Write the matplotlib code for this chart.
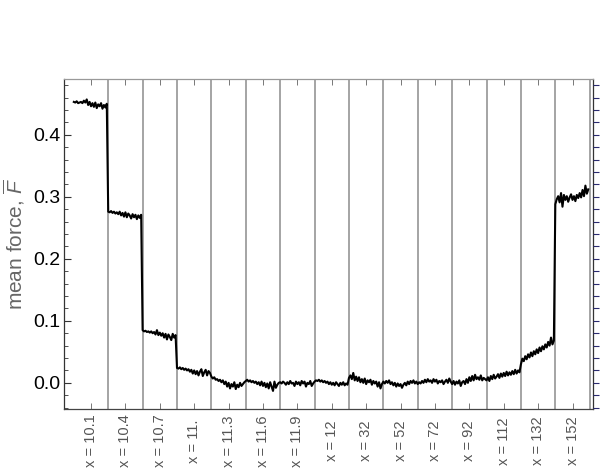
import numpy as np
import matplotlib
matplotlib.use("Agg")
import matplotlib.pyplot as plt
from matplotlib.ticker import MultipleLocator

plt.rcParams['font.family'] = ['Liberation Sans', 'DejaVu Sans']
plt.rcParams['mathtext.fontset'] = 'custom'
plt.rcParams['mathtext.rm'] = 'Liberation Sans'
plt.rcParams['mathtext.it'] = 'Liberation Sans:italic'

# segment labels (one per run)
x_labels = ["10.1", "10.4", "10.7", "11.", "11.3", "11.6", "11.9",
            "12", "32", "52", "72", "92", "112", "132", "152"]

# mean force, one list per segment
seg_10_1 = [0.453, 0.452, 0.454, 0.451, 0.452, 0.453, 0.451, 0.455, 0.452, 0.457, 0.448, 0.453,
            0.446, 0.451, 0.445, 0.452, 0.443, 0.449, 0.446, 0.451, 0.442, 0.448, 0.444, 0.450]
seg_10_4 = [0.276, 0.275, 0.277, 0.274, 0.276, 0.273, 0.275, 0.272, 0.276, 0.270, 0.274, 0.268,
            0.275, 0.267, 0.273, 0.270, 0.265, 0.272, 0.267, 0.271, 0.264, 0.270, 0.266, 0.271]
seg_10_7 = [0.085, 0.083, 0.084, 0.082, 0.083, 0.081, 0.083, 0.080, 0.082, 0.078, 0.085, 0.077,
            0.081, 0.076, 0.080, 0.073, 0.079, 0.070, 0.078, 0.074, 0.069, 0.079, 0.073, 0.077]
seg_11_0 = [0.024, 0.023, 0.025, 0.022, 0.024, 0.021, 0.023, 0.020, 0.022, 0.018, 0.021, 0.015,
            0.020, 0.014, 0.019, 0.012, 0.018, 0.022, 0.011, 0.017, 0.021, 0.012, 0.019, 0.016]
seg_11_3 = [0.010, 0.007, 0.009, 0.005, 0.006, 0.003, 0.005, 0.001, 0.004, -0.002, 0.002, -0.006,
            0.000, -0.009, -0.002, -0.006, 0.001, -0.010, -0.003, -0.007, 0.000, -0.005, -0.002, 0.001]
seg_11_6 = [0.003, 0.005, 0.002, 0.004, 0.001, 0.003, 0.000, 0.002, -0.002, 0.001, -0.004, 0.002,
            -0.005, 0.000, -0.007, -0.001, -0.009, 0.001, -0.006, -0.013, 0.002, -0.008, -0.003, 0.000]
seg_11_9 = [0.001, -0.001, 0.002, 0.000, -0.003, 0.001, -0.002, 0.003, -0.001, 0.000, -0.005, 0.002,
            -0.002, 0.001, -0.004, 0.003, -0.001, 0.002, -0.006, 0.000, -0.002, 0.003, -0.005, -0.001]
seg_12 = [0.002, 0.004, 0.003, 0.005, 0.002, 0.004, 0.001, 0.003, 0.000, 0.002, -0.002, 0.001,
          -0.003, 0.000, -0.004, 0.001, -0.002, -0.005, 0.000, -0.003, 0.001, -0.004, -0.001, -0.003]
seg_32 = [0.008, 0.012, 0.006, 0.016, 0.004, 0.010, 0.003, 0.009, 0.001, 0.006, 0.000, 0.007,
          -0.002, 0.004, 0.001, 0.005, -0.003, 0.003, -0.001, 0.002, -0.006, 0.001, -0.009, -0.002]
seg_52 = [0.002, -0.001, 0.003, 0.000, 0.004, -0.002, 0.001, -0.004, 0.000, -0.006, -0.001, -0.005,
          -0.002, -0.008, -0.003, 0.000, -0.004, 0.002, -0.002, 0.003, 0.000, 0.004, -0.001, 0.002]
seg_72 = [-0.002, 0.001, -0.001, 0.003, 0.000, 0.005, 0.001, 0.006, 0.002, 0.004, 0.000, 0.006,
          0.002, 0.005, -0.001, 0.003, 0.001, 0.004, -0.002, 0.002, 0.005, 0.000, 0.007, 0.002]
seg_92 = [-0.002, 0.003, -0.003, 0.002, -0.001, 0.004, -0.005, 0.001, 0.003, -0.002, 0.006, 0.000,
          0.009, 0.003, 0.011, 0.004, 0.013, 0.006, 0.009, 0.005, 0.012, 0.004, 0.008, 0.006]
seg_112 = [0.004, 0.009, 0.003, 0.011, 0.006, 0.013, 0.007, 0.010, 0.014, 0.008, 0.015, 0.010,
           0.016, 0.011, 0.018, 0.012, 0.017, 0.013, 0.019, 0.014, 0.021, 0.015, 0.020, 0.017]
seg_132 = [0.030, 0.039, 0.035, 0.043, 0.038, 0.046, 0.041, 0.049, 0.043, 0.051, 0.046, 0.054,
           0.048, 0.057, 0.051, 0.059, 0.054, 0.062, 0.057, 0.066, 0.060, 0.073, 0.062, 0.068]
seg_152 = [0.288, 0.296, 0.301, 0.291, 0.306, 0.284, 0.303, 0.295, 0.301, 0.292, 0.299, 0.304,
           0.295, 0.301, 0.293, 0.303, 0.298, 0.306, 0.299, 0.311, 0.301, 0.318, 0.305, 0.312]

segments = [seg_10_1, seg_10_4, seg_10_7, seg_11_0, seg_11_3, seg_11_6, seg_11_9,
            seg_12, seg_32, seg_52, seg_72, seg_92, seg_112, seg_132, seg_152]

# each segment occupies one unit on the x axis
xs, ys = [], []
for k, seg in enumerate(segments):
    n = len(seg)
    xs.extend(k + np.arange(n) / n)
    ys.extend(seg)

fig = plt.figure(figsize=(6, 4.7), dpi=100)
ax = fig.add_axes([0.107, 0.13, 0.881, 0.702])

for k in range(1, len(segments) + 1):
    ax.axvline(k, color='#8c8c8c', lw=1.1, zorder=1)

ax.plot(xs, ys, color='black', lw=1.5, zorder=3)

ax.set_xlim(-0.28, 15.09)
ax.set_ylim(-0.042, 0.49)

# y axis
ax.yaxis.set_minor_locator(MultipleLocator(0.02))
ax.set_yticks([0.0, 0.1, 0.2, 0.3, 0.4])
ax.set_yticklabels(["0.0", "0.1", "0.2", "0.3", "0.4"])
ax.tick_params(axis='y', which='major', direction='in', length=5, width=0.8,
               labelsize=14, pad=3, colors='#333333', labelcolor='black')
ax.tick_params(axis='y', which='minor', direction='in', length=3, width=0.6, colors='#333333')

# x axis
ax.set_xticks(np.arange(len(x_labels)) + 0.5)
ax.set_xticklabels(["x = " + s for s in x_labels], rotation=90)
ax.tick_params(axis='x', which='major', direction='in', length=4, width=0.7,
               labelsize=10.5, pad=23, colors='#777777', labelcolor='#555555',
               top=True)
for lab in ax.get_xticklabels():
    lab.set_verticalalignment('center')

ax.set_ylabel(r'mean force, $\overline{F}$', fontsize=15, color='#666666', labelpad=4)

ax.spines['left'].set_color('#333333')
ax.spines['bottom'].set_color('#444444')
ax.spines['top'].set_color('#999999')
ax.spines['right'].set_color('#333333')
for sp in ax.spines.values():
    sp.set_linewidth(0.9)

# right side ticks every 0.02
ax2 = ax.twinx()
ax2.set_ylim(ax.get_ylim())
ax2.yaxis.set_major_locator(MultipleLocator(0.02))
ax2.tick_params(axis='y', direction='out', length=4, width=0.8, colors='#2b2b70',
                labelright=False)
for sp in ax2.spines.values():
    sp.set_visible(False)

fig.savefig("out.png", dpi=100)
